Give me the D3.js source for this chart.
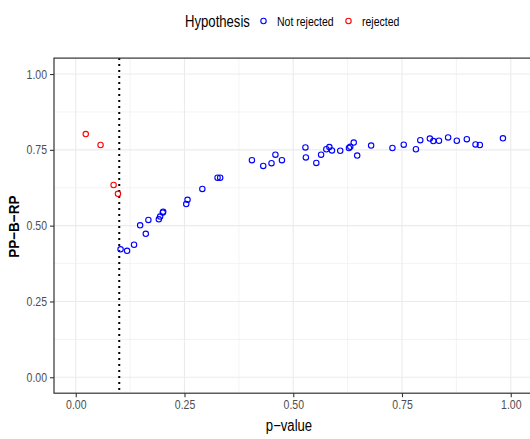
<!DOCTYPE html>
<html>
<head>
<meta charset="utf-8">
<script src="https://cdn.jsdelivr.net/npm/d3@7"></script>
<style>
  html, body { margin: 0; padding: 0; background: #ffffff; }
  svg { display: block; }
  text { font-family: "Liberation Sans", Arial, sans-serif; }
</style>
</head>
<body>
<div id="chart"></div>
<script>
// ---- data ----
const rejectedP   = [0.023, 0.057, 0.087, 0.097];
const rejectedV   = [0.802, 0.766, 0.634, 0.605];
const notRejP = [0.103, 0.118, 0.134, 0.148, 0.161, 0.167, 0.191, 0.194, 0.200, 0.201,
                 0.254, 0.257, 0.291, 0.326, 0.332, 0.405, 0.431, 0.450, 0.459, 0.474,
                 0.528, 0.529, 0.553, 0.564, 0.576, 0.583, 0.589, 0.608, 0.628, 0.631,
                 0.639, 0.647, 0.679, 0.728, 0.754, 0.782, 0.792, 0.814, 0.822, 0.835,
                 0.856, 0.876, 0.899, 0.919, 0.929, 0.982];
const notRejV = [0.422, 0.417, 0.437, 0.501, 0.473, 0.519, 0.521, 0.530, 0.543, 0.546,
                 0.571, 0.585, 0.621, 0.658, 0.658, 0.716, 0.697, 0.706, 0.734, 0.716,
                 0.758, 0.725, 0.707, 0.734, 0.752, 0.759, 0.748, 0.747, 0.756, 0.760,
                 0.774, 0.731, 0.764, 0.756, 0.767, 0.752, 0.782, 0.787, 0.779, 0.780,
                 0.791, 0.780, 0.785, 0.768, 0.766, 0.788];
const threshold = 0.1;
const xTicks = [0, 0.25, 0.5, 0.75, 1];
const yTicks = [0, 0.25, 0.5, 0.75, 1];
const xMinor = [0.125, 0.375, 0.625, 0.875];
const yMinor = [0.125, 0.375, 0.625, 0.875];
const legendLabels = ["Not rejected", "rejected"];
const colors = { "Not rejected": "#0000FF", "rejected": "#FF0000" };

// ---- layout ----
const W = 530, H = 439;
const panel = { left: 54, right: 532.5, top: 58.1, bottom: 393.2 };
const NARROW = 0.82;

const svg = d3.select("#chart").append("svg").attr("width", W).attr("height", H);

// condense text horizontally (narrow face emulation)
function narrow(sel, factor) {
  sel.each(function () {
    const w = this.getComputedTextLength();
    d3.select(this).attr("textLength", w * (factor || NARROW)).attr("lengthAdjust", "spacingAndGlyphs");
  });
}

const x = d3.scaleLinear().domain([-0.05, 1.05]).range([panel.left, panel.right]);
const y = d3.scaleLinear().domain([-0.0525, 1.0525]).range([panel.bottom, panel.top]);

const g = svg.append("g");

// grid minor
g.selectAll(".xminor").data(xMinor).enter().append("line")
  .attr("x1", d => x(d)).attr("x2", d => x(d))
  .attr("y1", panel.top).attr("y2", panel.bottom)
  .attr("stroke", "#f0f0f0").attr("stroke-width", 0.8);
g.selectAll(".yminor").data(yMinor).enter().append("line")
  .attr("y1", d => y(d)).attr("y2", d => y(d))
  .attr("x1", panel.left).attr("x2", panel.right)
  .attr("stroke", "#f0f0f0").attr("stroke-width", 0.8);
// grid major
g.selectAll(".xmajor").data(xTicks).enter().append("line")
  .attr("x1", d => x(d)).attr("x2", d => x(d))
  .attr("y1", panel.top).attr("y2", panel.bottom)
  .attr("stroke", "#ebebeb").attr("stroke-width", 1.1);
g.selectAll(".ymajor").data(yTicks).enter().append("line")
  .attr("y1", d => y(d)).attr("y2", d => y(d))
  .attr("x1", panel.left).attr("x2", panel.right)
  .attr("stroke", "#ebebeb").attr("stroke-width", 1.1);

// threshold dotted line
g.append("line")
  .attr("x1", x(threshold)).attr("x2", x(threshold))
  .attr("y1", panel.top).attr("y2", panel.bottom)
  .attr("stroke", "#000").attr("stroke-width", 2)
  .attr("stroke-dasharray", "2,4");

// points
const notRej = notRejP.map((p, i) => ({ p, v: notRejV[i], h: "Not rejected" }));
const rej = rejectedP.map((p, i) => ({ p, v: rejectedV[i], h: "rejected" }));
g.selectAll(".pt").data(notRej.concat(rej)).enter().append("circle")
  .attr("cx", d => x(d.p)).attr("cy", d => y(d.v)).attr("r", 2.7)
  .attr("fill", "none").attr("stroke", d => colors[d.h]).attr("stroke-width", 1.1);

// panel border
g.append("rect")
  .attr("x", panel.left).attr("y", panel.top)
  .attr("width", panel.right - panel.left).attr("height", panel.bottom - panel.top)
  .attr("fill", "none").attr("stroke", "#333333").attr("stroke-width", 1.2);

// axes
const xAxis = d3.axisBottom(x).tickValues(xTicks).tickFormat(d3.format(".2f")).tickSize(4).tickPadding(3);
const yAxis = d3.axisLeft(y).tickValues(yTicks).tickFormat(d3.format(".2f")).tickSize(4).tickPadding(3);

const gx = svg.append("g").attr("transform", `translate(0,${panel.bottom})`).call(xAxis);
const gy = svg.append("g").attr("transform", `translate(${panel.left},0)`).call(yAxis);
[gx, gy].forEach(a => {
  a.select(".domain").remove();
  a.selectAll(".tick line").attr("stroke", "#333333").attr("stroke-width", 1.1);
  a.selectAll(".tick text").attr("fill", "#4d4d4d").style("font-size", "12.8px")
   .style("font-family", '"Liberation Sans", Arial, sans-serif')
   .call(narrow);
});

// axis titles
svg.append("text").attr("x", (panel.left + 523) / 2 + 0.5).attr("y", 431)
  .attr("text-anchor", "middle").attr("fill", "#000").style("font-size", "16px")
  .text("p\u2212value").call(narrow);
svg.append("text")
  .attr("transform", `translate(19,${(panel.top + panel.bottom) / 2 + 1}) rotate(-90)`)
  .attr("text-anchor", "middle").attr("fill", "#000").style("font-size", "15px")
  .style("font-weight", "bold").text("PP\u2212B\u2212RP").call(narrow, 0.9);

// legend
const leg = svg.append("g");
leg.append("text").attr("x", 185).attr("y", 26.5).style("font-size", "16px").attr("fill", "#000")
  .text("Hypothesis").call(narrow);
const legX = [263.5, 348.5];
legendLabels.forEach((lab, i) => {
  leg.append("circle").attr("cx", legX[i]).attr("cy", 21).attr("r", 2.7)
    .attr("fill", "none").attr("stroke", colors[lab]).attr("stroke-width", 1.1);
  leg.append("text").attr("x", legX[i] + 13.5).attr("y", 25.5).style("font-size", "12.8px")
    .attr("fill", "#000").text(lab).call(narrow);
});
</script>
</body>
</html>
